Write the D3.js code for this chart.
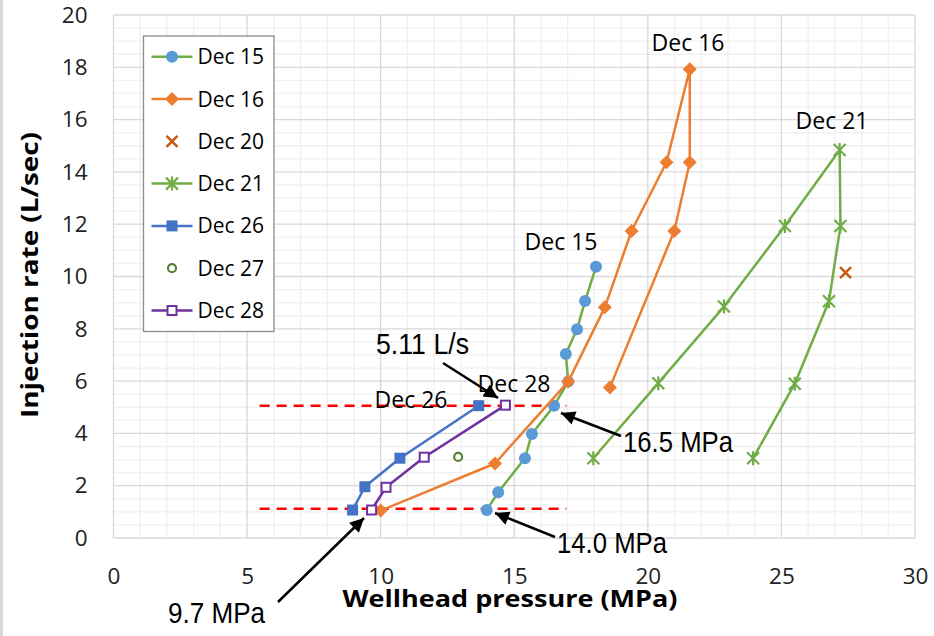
<!doctype html>
<html>
  <head>
    <script src="https://d3js.org/d3.v7.min.js"></script>
    <style>
      body { margin: 0; background: #fff; }
      svg { display: block; }
    </style>
  </head>
  <body>
    <script>
      // ---------- data (pressure MPa, rate L/s) ----------
      var dec15P = [13.97, 14.40, 15.40, 15.66, 16.49, 17.02, 16.93, 17.35, 17.65, 18.06];
      var dec15Q = [1.07, 1.75, 3.05, 3.98, 5.06, 5.98, 7.04, 7.98, 9.06, 10.37];
      var dec16P = [10.00, 14.28, 17.02, 18.39, 19.39, 20.70, 21.57, 21.57, 20.99, 18.58];
      var dec16Q = [1.05, 2.85, 5.98, 8.82, 11.74, 14.37, 17.93, 14.37, 11.74, 5.76];
      var dec20P = [27.40];
      var dec20Q = [10.15];
      var dec21P = [17.96, 20.39, 22.85, 25.13, 27.18, 27.21, 26.78, 25.50, 23.94];
      var dec21Q = [3.05, 5.92, 8.85, 11.93, 14.84, 11.93, 9.05, 5.90, 3.05];
      var dec26P = [8.95, 9.41, 10.72, 13.67];
      var dec26Q = [1.07, 1.96, 3.05, 5.06];
      var dec27P = [12.90];
      var dec27Q = [3.10];
      var dec28P = [9.66, 10.20, 11.63, 14.67];
      var dec28Q = [1.07, 1.94, 3.09, 5.08];

      var seriesNames = ["Dec 15", "Dec 16", "Dec 20", "Dec 21", "Dec 26", "Dec 27", "Dec 28"];
      var xTicks = [0, 5, 10, 15, 20, 25, 30];
      var yTicks = [0, 2, 4, 6, 8, 10, 12, 14, 16, 18, 20];
      var refRates = [5.06, 1.12];      // red dashed lines
      var refFrom = 5.47, refTo = 16.95;

      // ---------- setup ----------
      var width = 934, height = 636;
      var x = d3.scaleLinear().domain([0, 30]).range([113.5, 915]);
      var y = d3.scaleLinear().domain([0, 20]).range([538, 15]);

      var zip = (p, q) => p.map((d, i) => ({ p: d, q: q[i] }));

      var series = [
        { name: seriesNames[0], pts: zip(dec15P, dec15Q), line: "#70ad47", marker: "circle",  fill: "#5b9bd5", stroke: "#5b9bd5" },
        { name: seriesNames[1], pts: zip(dec16P, dec16Q), line: "#ed7d31", marker: "diamond", fill: "#ed7d31", stroke: "#ed7d31" },
        { name: seriesNames[2], pts: zip(dec20P, dec20Q), line: null,      marker: "x",       fill: "none",    stroke: "#c55a11" },
        { name: seriesNames[3], pts: zip(dec21P, dec21Q), line: "#70ad47", marker: "star",    fill: "none",    stroke: "#70ad47" },
        { name: seriesNames[4], pts: zip(dec26P, dec26Q), line: "#4472c4", marker: "square",  fill: "#4472c4", stroke: "#4472c4" },
        { name: seriesNames[5], pts: zip(dec27P, dec27Q), line: null,      marker: "ring",    fill: "#fff",    stroke: "#548235" },
        { name: seriesNames[6], pts: zip(dec28P, dec28Q), line: "#7030a0", marker: "osquare", fill: "#fff",    stroke: "#7030a0" }
      ];

      var svg = d3.select("body").append("svg")
        .attr("width", width).attr("height", height);

      svg.append("rect").attr("width", width).attr("height", height).attr("fill", "#fff");
      svg.append("rect").attr("x", 0).attr("y", 0).attr("width", 3).attr("height", height).attr("fill", "#d9d9d9");

      // ---------- grid ----------
      var grid = svg.append("g");
      grid.selectAll(".vmin").data(d3.range(1, 30, 1).filter(d => d % 5))
        .enter().append("line")
        .attr("x1", d => x(d)).attr("x2", d => x(d)).attr("y1", y(0)).attr("y2", y(20))
        .attr("stroke", "#f0f0f0").attr("stroke-width", 1.3);
      grid.selectAll(".hmin").data(d3.range(0.5, 20, 0.5).filter(d => d % 2))
        .enter().append("line")
        .attr("y1", d => y(d)).attr("y2", d => y(d)).attr("x1", x(0)).attr("x2", x(30))
        .attr("stroke", "#f0f0f0").attr("stroke-width", 1.3);
      grid.selectAll(".vmaj").data(xTicks)
        .enter().append("line")
        .attr("x1", d => x(d)).attr("x2", d => x(d)).attr("y1", y(0)).attr("y2", y(20))
        .attr("stroke", "#d9d9d9").attr("stroke-width", 1.3);
      grid.selectAll(".hmaj").data(yTicks)
        .enter().append("line")
        .attr("y1", d => y(d)).attr("y2", d => y(d)).attr("x1", x(0)).attr("x2", x(30))
        .attr("stroke", "#d9d9d9").attr("stroke-width", 1.3);

      // ---------- axes (labels only, Excel style) ----------
      var xAxis = svg.append("g").attr("transform", "translate(0," + y(0) + ")")
        .call(d3.axisBottom(x).tickValues(xTicks).tickSize(0).tickPadding(30));
      var yAxis = svg.append("g").attr("transform", "translate(" + x(0) + ",0)")
        .call(d3.axisLeft(y).tickValues(yTicks).tickSize(0).tickPadding(26));
      [xAxis, yAxis].forEach(function (g) {
        g.select(".domain").remove();
        g.selectAll("text")
          .attr("font-family", "'Open Sans', sans-serif")
          .attr("font-size", 22.5)
          .attr("fill", "#222");
      });

      svg.append("text")
        .attr("x", 510).attr("y", 607)
        .attr("text-anchor", "middle")
        .attr("font-family", "'Open Sans', sans-serif")
        .attr("font-weight", "bold").attr("font-size", 23)
        .attr("textLength", 335).attr("lengthAdjust", "spacingAndGlyphs")
        .text("Wellhead pressure (MPa)");
      svg.append("text")
        .attr("transform", "translate(38,275) rotate(-90)")
        .attr("text-anchor", "middle")
        .attr("font-family", "'Open Sans', sans-serif")
        .attr("font-weight", "bold").attr("font-size", 23)
        .attr("textLength", 286).attr("lengthAdjust", "spacingAndGlyphs")
        .text("Injection rate (L/sec)");

      // ---------- red reference lines ----------
      svg.selectAll(".ref").data(refRates)
        .enter().append("line")
        .attr("x1", x(refFrom)).attr("x2", x(refTo))
        .attr("y1", d => y(d)).attr("y2", d => y(d))
        .attr("stroke", "#ff0000").attr("stroke-width", 2.5)
        .attr("stroke-dasharray", "10,7");

      // ---------- markers ----------
      function drawMarker(g, s, cx, cy) {
        var m = s.marker;
        if (m === "circle") {
          g.append("circle").attr("cx", cx).attr("cy", cy).attr("r", 6).attr("fill", s.fill);
        } else if (m === "diamond") {
          g.append("path").attr("d", "M" + cx + "," + (cy - 7) + "L" + (cx + 7) + "," + cy + "L" + cx + "," + (cy + 7) + "L" + (cx - 7) + "," + cy + "Z")
            .attr("fill", s.fill);
        } else if (m === "x") {
          g.append("path").attr("d", "M" + (cx - 5.5) + "," + (cy - 5.5) + "L" + (cx + 5.5) + "," + (cy + 5.5) + "M" + (cx + 5.5) + "," + (cy - 5.5) + "L" + (cx - 5.5) + "," + (cy + 5.5))
            .attr("stroke", s.stroke).attr("stroke-width", 2.5).attr("fill", "none");
        } else if (m === "star") {
          g.append("path").attr("d", "M" + (cx - 6) + "," + (cy - 6) + "L" + (cx + 6) + "," + (cy + 6) + "M" + (cx + 6) + "," + (cy - 6) + "L" + (cx - 6) + "," + (cy + 6) +
              "M" + cx + "," + (cy - 7) + "L" + cx + "," + (cy + 7))
            .attr("stroke", s.stroke).attr("stroke-width", 2.2).attr("fill", "none");
        } else if (m === "square") {
          g.append("rect").attr("x", cx - 5.5).attr("y", cy - 5.5).attr("width", 11).attr("height", 11).attr("fill", s.fill);
        } else if (m === "ring") {
          g.append("circle").attr("cx", cx).attr("cy", cy).attr("r", 4).attr("fill", s.fill)
            .attr("stroke", s.stroke).attr("stroke-width", 2.2);
        } else if (m === "osquare") {
          g.append("rect").attr("x", cx - 4.5).attr("y", cy - 4.5).attr("width", 9).attr("height", 9)
            .attr("fill", s.fill).attr("stroke", s.stroke).attr("stroke-width", 2);
        }
      }

      var line = d3.line().x(d => x(d.p)).y(d => y(d.q));

      series.forEach(function (s) {
        var g = svg.append("g");
        if (s.line) {
          g.append("path").datum(s.pts).attr("d", line)
            .attr("fill", "none").attr("stroke", s.line).attr("stroke-width", 2.5)
            .attr("stroke-linejoin", "round");
        }
        s.pts.forEach(function (d) { drawMarker(g, s, x(d.p), y(d.q)); });
      });

      // ---------- series labels ----------
      var labelFont = "'Open Sans', sans-serif";
      var seriesLabels = [
        { t: "Dec 15", x: 561, y: 250 },
        { t: "Dec 16", x: 688, y: 51 },
        { t: "Dec 21", x: 832, y: 129 },
        { t: "Dec 28", x: 514, y: 392 },
        { t: "Dec 26", x: 411, y: 408 }
      ];
      svg.selectAll(".slab").data(seriesLabels)
        .enter().append("text")
        .attr("x", d => d.x).attr("y", d => d.y)
        .attr("text-anchor", "middle")
        .attr("font-family", labelFont).attr("font-size", 23)
        .attr("fill", "#000")
        .text(d => d.t);

      // ---------- annotations with arrows ----------
      var defs = svg.append("defs");
      defs.append("marker").attr("id", "arrow")
        .attr("viewBox", "0 0 10 10").attr("refX", 10).attr("refY", 5)
        .attr("markerUnits", "userSpaceOnUse")
        .attr("markerWidth", 16).attr("markerHeight", 14)
        .attr("orient", "auto")
        .append("path").attr("d", "M0,0L10,5L0,10Z").attr("fill", "#000");

      var arrows = [
        { x1: 443, y1: 363, x2: 498, y2: 398 },
        { x1: 621, y1: 436, x2: 561, y2: 413 },
        { x1: 555, y1: 537, x2: 495, y2: 513 },
        { x1: 278, y1: 602, x2: 364, y2: 518 }
      ];
      svg.selectAll(".arr").data(arrows)
        .enter().append("line")
        .attr("x1", d => d.x1).attr("y1", d => d.y1)
        .attr("x2", d => d.x2).attr("y2", d => d.y2)
        .attr("stroke", "#000").attr("stroke-width", 2.5)
        .attr("marker-end", "url(#arrow)");

      var notes = [
        { t: "5.11 L/s", x: 376, y: 354, w: 93 },
        { t: "16.5 MPa", x: 623, y: 452, w: 110 },
        { t: "14.0 MPa", x: 557, y: 553, w: 110 },
        { t: "9.7 MPa", x: 168, y: 623, w: 97 }
      ];
      svg.selectAll(".note").data(notes)
        .enter().append("text")
        .attr("x", d => d.x).attr("y", d => d.y)
        .attr("font-family", "'Liberation Sans Narrow', 'Arial Narrow', 'Liberation Sans', sans-serif")
        .attr("font-size", 29)
        .attr("textLength", d => d.w).attr("lengthAdjust", "spacingAndGlyphs")
        .attr("fill", "#000")
        .text(d => d.t);

      // ---------- legend ----------
      var lg = svg.append("g");
      lg.append("rect").attr("x", 143.5).attr("y", 36).attr("width", 130.5).attr("height", 295.5)
        .attr("fill", "#fff").attr("stroke", "#8c8c8c").attr("stroke-width", 1.3);
      series.forEach(function (s, i) {
        var cy = 56.7 + i * 42.3;
        var g = lg.append("g");
        if (s.line) {
          g.append("line").attr("x1", 151.5).attr("x2", 192.5).attr("y1", cy).attr("y2", cy)
            .attr("stroke", s.line).attr("stroke-width", 2.5);
        }
        drawMarker(g, s, 172, cy);
        g.append("text").attr("x", 197.5).attr("y", cy + 7.5)
          .attr("font-family", "'Open Sans', sans-serif").attr("font-size", 21)
          .attr("fill", "#000")
          .text(s.name);
      });
    </script>
  </body>
</html>
